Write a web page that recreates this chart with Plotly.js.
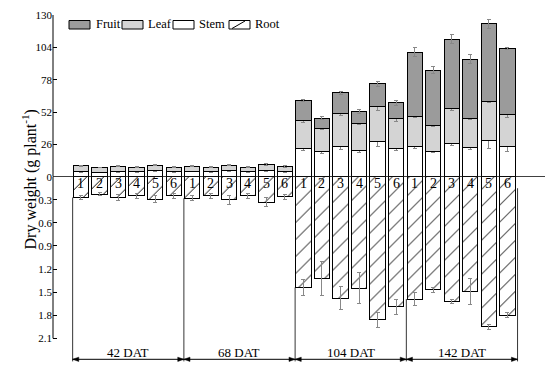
<!DOCTYPE html>
<html>
<head>
<meta charset="utf-8">
<script src="https://cdn.plot.ly/plotly-3.0.1.min.js"></script>
<style>html,body{margin:0;padding:0;background:#fff;-webkit-font-smoothing:antialiased;}#chart{width:550px;height:369px;}</style>
</head>
<body>
<div id="chart"></div>
<script>
// ---- data ----
const groups = ['42 DAT', '68 DAT', '104 DAT', '142 DAT'];
const treatments = ['1', '2', '3', '4', '5', '6'];
const stem = [4.2, 3.6, 4.3, 3.8, 4.6, 3.9, 4.4, 3.8, 4.8, 3.9, 5.0, 4.2,
  22.9, 19.9, 24.5, 21.3, 28.0, 22.9, 24.0, 20.5, 27.0, 23.2, 29.4, 24.5];
const leaf = [4.5, 3.8, 4.3, 3.8, 4.8, 3.7, 4.2, 3.8, 4.6, 3.7, 5.0, 4.1,
  22.3, 19.2, 26.1, 21.8, 28.5, 23.9, 24.2, 20.7, 27.7, 23.6, 30.7, 25.3];
const fruit = [null, null, null, null, null, null, null, null, null, null, null, null,
  15.9, 8.0, 16.7, 9.4, 18.3, 12.5, 51.9, 44.4, 55.9, 47.7, 63.0, 53.3];
const root = [0.27, 0.23, 0.27, 0.25, 0.29, 0.25, 0.28, 0.25, 0.30, 0.25, 0.33, 0.26,
  1.44, 1.32, 1.58, 1.45, 1.86, 1.69, 1.59, 1.47, 1.62, 1.49, 1.95, 1.80];
const stemErr = [0.5, 0.4, 0.6, 0.5, 0.7, 0.5, 0.6, 0.5, 0.7, 0.5, 0.8, 0.6,
  1.9, 1.5, 3.0, 1.6, 3.5, 1.8, 1.2, 0.8, 2.3, 1.0, 6.5, 4.0];
const leafErr = [0.5, 0.4, 0.5, 0.4, 0.6, 0.4, 0.5, 0.4, 0.6, 0.4, 0.6, 0.5,
  2.0, 1.5, 1.6, 1.5, 3.0, 2.5, 0.8, 0.6, 1.6, 0.6, 0.5, 2.0];
const fruitErr = [null, null, null, null, null, null, null, null, null, null, null, null,
  1.0, 1.5, 1.0, 1.5, 2.0, 2.0, 3.4, 2.7, 3.4, 3.4, 3.6, 0.5];
const rootErr = [0.02, 0.02, 0.04, 0.03, 0.05, 0.03, 0.03, 0.03, 0.06, 0.03, 0.06, 0.03,
  0.10, 0.22, 0.15, 0.20, 0.10, 0.10, 0.08, 0.03, 0.03, 0.17, 0.03, 0.03];
const upperTicks = [0, 26, 52, 78, 104, 130];
const lowerTicks = [0.3, 0.6, 0.9, 1.2, 1.5, 1.8, 2.1];

// ---- build ----
const xs = [], labels = [];
groups.forEach((g, gi) => treatments.forEach((t, ti) => { xs.push(gi * treatments.length + ti); labels.push(t); }));

const serif = 'Liberation Serif, Times New Roman, serif';
const BW = 0.825;
const errStyle = (arr) => ({type: 'data', array: arr, visible: true, color: '#888', thickness: 1, width: 2});
const outline = {color: '#000', width: 1};

const traces = [
  {type: 'bar', name: 'Stem', x: xs, y: stem, width: BW, yaxis: 'y',
   marker: {color: '#ffffff', line: outline}, error_y: errStyle(stemErr)},
  {type: 'bar', name: 'Leaf', x: xs, y: leaf, width: BW, yaxis: 'y',
   marker: {color: '#d4d4d4', line: outline}, error_y: errStyle(leafErr)},
  {type: 'bar', name: 'Fruit', x: xs, y: fruit, width: BW, yaxis: 'y',
   marker: {color: '#9b9b9b', line: outline}, error_y: errStyle(fruitErr)},
  {type: 'bar', name: 'Root', x: xs, y: root, width: BW, yaxis: 'y2',
   marker: {color: '#ffffff', line: outline,
            pattern: {shape: '/', fgcolor: '#000', bgcolor: '#fff', size: 12, solidity: 0.08}},
   error_y: errStyle(rootErr)}
];

// pixel helpers for decorations
const ML = 53, MT = 15, PW = 492, PH = 350;
const pxX = p => (p - ML) / PW;
const pxY = p => 1 - (p - MT) / PH;

const shapes = [];
const annotations = [];
// treatment numbers inside root bars
xs.forEach((x, i) => annotations.push({xref: 'x', yref: 'y2', x: x, y: 0.09, text: labels[i], showarrow: false,
  font: {family: serif, size: 14, color: '#000000'}}));
// axis lines
shapes.push({type: 'line', xref: 'paper', yref: 'y', x0: 0, x1: 0, y0: 0, y1: 130, line: {color: '#000', width: 1}});
shapes.push({type: 'line', xref: 'paper', yref: 'y2', x0: 0, x1: 0, y0: 0, y1: 2.1, line: {color: '#000', width: 1}});
// zero line
shapes.push({type: 'line', xref: 'paper', yref: 'y', x0: 0, x1: 1, y0: 0, y1: 0, line: {color: '#000', width: 1.6}});

// group brackets
const n = treatments.length;
for (let k = 0; k <= groups.length; k++) {
  const bx = k * n - 0.45;
  const top = k < groups.length ? root[k * n] : 0.15;
  shapes.push({type: 'line', xref: 'x', yref: 'y2', x0: bx, x1: bx, y0: top, y1: 2.40, line: {color: '#000', width: 0.8}});
}
const ay = 2.373, dx = 0.33, dy = 0.028;
groups.forEach((g, k) => {
  const x0 = k * n - 0.45, x1 = (k + 1) * n - 0.45;
  shapes.push({type: 'line', xref: 'x', yref: 'y2', x0: x0, x1: x1, y0: ay, y1: ay, line: {color: '#000', width: 1}});
  shapes.push({type: 'path', xref: 'x', yref: 'y2', fillcolor: '#000', line: {color: '#000', width: 0.5},
    path: `M${x0},${ay} L${x0 + dx},${ay - dy} L${x0 + dx},${ay + dy} Z`});
  shapes.push({type: 'path', xref: 'x', yref: 'y2', fillcolor: '#000', line: {color: '#000', width: 0.5},
    path: `M${x1},${ay} L${x1 - dx},${ay - dy} L${x1 - dx},${ay + dy} Z`});
  annotations.push({xref: 'x', yref: 'y2', x: (x0 + x1) / 2, y: 2.28, text: g, showarrow: false,
    font: {family: serif, size: 13, color: '#000'}});
});

// y title
annotations.push({xref: 'paper', yref: 'paper', x: pxX(17), y: pxY(180), text: 'Dry weight (g plant<sup>-1</sup>)',
  textangle: -90, showarrow: false, font: {family: serif, size: 16, color: '#000'}});

// legend
const legendItems = [
  {name: 'Fruit', color: '#9b9b9b', bx: 69, tx: 94},
  {name: 'Leaf', color: '#d4d4d4', bx: 122, tx: 146},
  {name: 'Stem', color: '#ffffff', bx: 173, tx: 197},
  {name: 'Root', color: '#ffffff', bx: 229, tx: 253}
];
legendItems.forEach(it => {
  shapes.push({type: 'rect', xref: 'paper', yref: 'paper', x0: pxX(it.bx), x1: pxX(it.bx + 21),
    y0: pxY(29), y1: pxY(20.5), fillcolor: it.color, line: {color: '#000', width: 1}});
  annotations.push({xref: 'paper', yref: 'paper', x: pxX(it.tx), y: pxY(24.5), xanchor: 'left', yanchor: 'middle',
    text: it.name, showarrow: false, font: {family: serif, size: 12.5, color: '#000'}});
});
shapes.push({type: 'line', xref: 'paper', yref: 'paper', x0: pxX(232), x1: pxX(245), y0: pxY(28.5), y1: pxY(21),
  line: {color: '#000', width: 1}});

const split = 1 - (176.7 - MT) / PH;
const layout = {
  width: 550, height: 369,
  margin: {l: ML, r: 5, t: MT, b: 4},
  paper_bgcolor: '#fff', plot_bgcolor: 'rgba(0,0,0,0)',
  barmode: 'stack', showlegend: false, hovermode: false,
  font: {family: serif, color: '#000'},
  xaxis: {range: [-1.51, 25.03], visible: false, fixedrange: true},
  yaxis: {domain: [split, 1], range: [0, 130], anchor: 'x', tickvals: upperTicks,
    ticktext: upperTicks.map(String), ticks: 'inside', ticklen: 4, tickcolor: '#000',
    showline: false, showgrid: false, zeroline: false, tickfont: {family: serif, size: 11, color: '#000'}},
  yaxis2: {domain: [0, split], range: [2.447, 0], anchor: 'x', tickvals: lowerTicks,
    ticktext: lowerTicks.map(v => v.toFixed(1)), ticks: 'inside', ticklen: 4, tickcolor: '#000',
    showline: false, showgrid: false, zeroline: false, tickfont: {family: serif, size: 11, color: '#000'}},
  shapes: shapes,
  annotations: annotations
};

Plotly.newPlot('chart', traces, layout, {staticPlot: true, displayModeBar: false});
</script>
</body>
</html>
